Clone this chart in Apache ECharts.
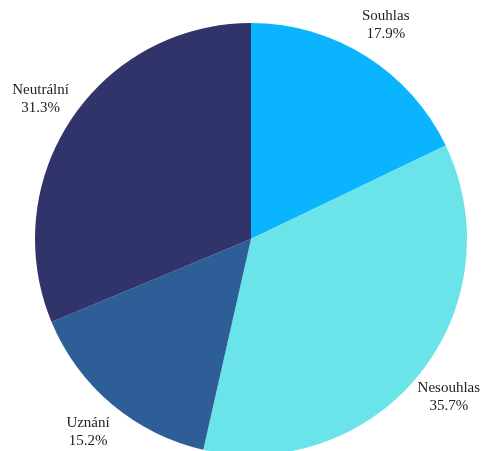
<!DOCTYPE html>
<html>
<head>
<meta charset="utf-8">
<style>
  html, body { margin: 0; padding: 0; background: #ffffff; }
  #chart { width: 483px; height: 451px; }
</style>
<script src="https://cdn.jsdelivr.net/npm/echarts@6/dist/echarts.min.js"></script>
</head>
<body>
<div id="chart"></div>
<script>
// Survey responses, clockwise from 12 o'clock
const categories = ['Souhlas', 'Nesouhlas', 'Uznání', 'Neutrální'];
const shares = [17.9, 35.7, 15.2, 31.3];
const colors = ['#0bb4ff', '#6ae4e9', '#2e5e97', '#31346b'];

const slices = categories.map((name, i) => ({
  name: name,
  value: shares[i],
  itemStyle: { color: colors[i] }
}));

const chart = echarts.init(document.getElementById('chart'), null, { renderer: 'canvas' });

chart.setOption({
  backgroundColor: '#ffffff',
  animation: false,
  series: [
    {
      // the filled pie
      type: 'pie',
      center: [251, 239],
      radius: 216,
      startAngle: 90,
      clockwise: true,
      silent: true,
      label: { show: false },
      labelLine: { show: false },
      itemStyle: { borderWidth: 0 },
      data: slices
    },
    {
      // invisible ring carrying the labels just outside the pie
      type: 'pie',
      center: [251, 239],
      radius: [232, 268],
      startAngle: 90,
      clockwise: true,
      silent: true,
      itemStyle: { color: 'rgba(0,0,0,0)', borderWidth: 0 },
      label: {
        show: true,
        position: 'inside',
        rotate: 0,
        formatter: p => p.name + '\n' + p.value.toFixed(1) + '%',
        fontFamily: '"Liberation Serif", "Times New Roman", serif',
        fontSize: 15,
        lineHeight: 18,
        color: '#222222',
        align: 'center'
      },
      labelLine: { show: false },
      data: slices.map(s => ({ name: s.name, value: s.value }))
    }
  ]
});
</script>
</body>
</html>
